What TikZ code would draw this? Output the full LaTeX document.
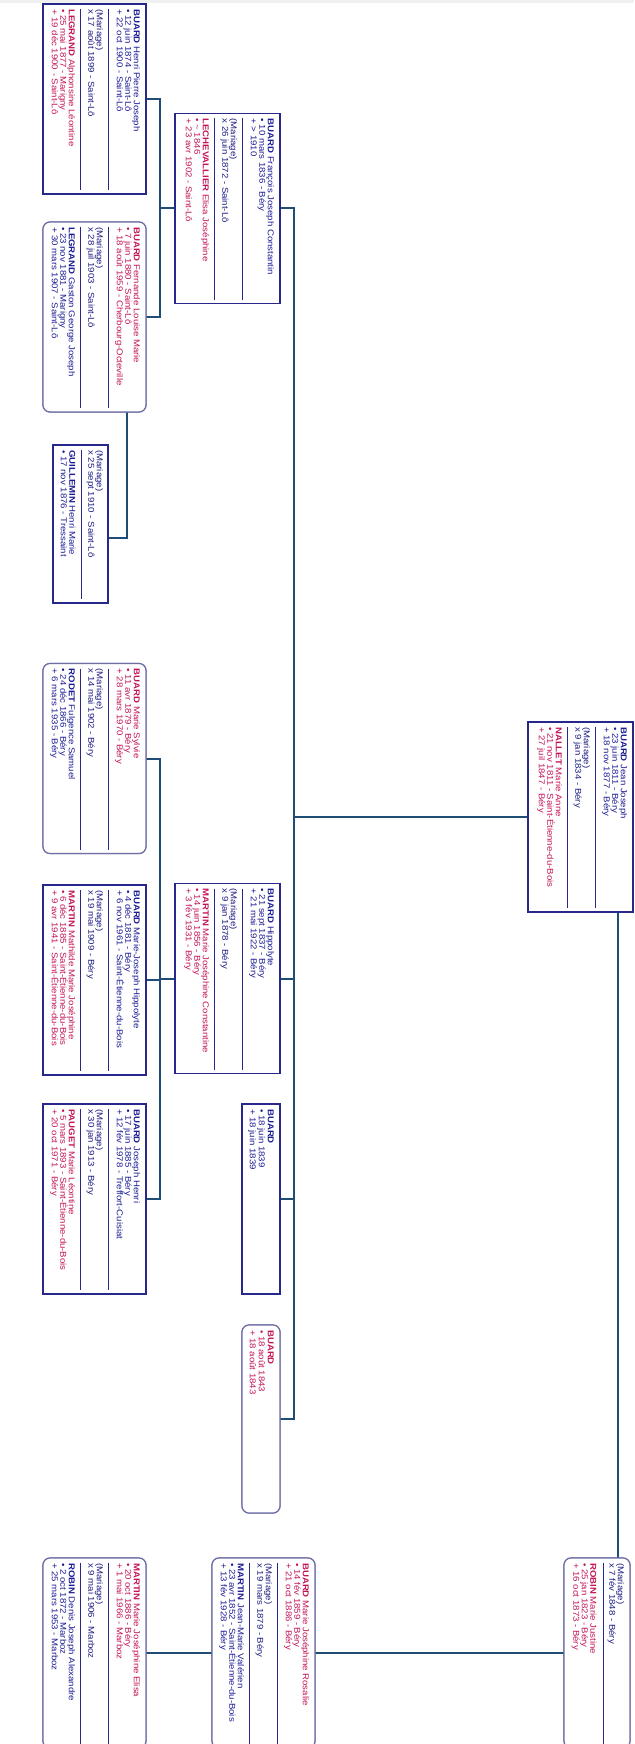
\documentclass[tikz,border=0pt]{standalone}
\usepackage{fontspec}
\setmainfont{Liberation Sans}
\newfontfamily\genfont[FakeStretch=1.13]{Liberation Sans}
\definecolor{male}{RGB}{28,28,150}
\definecolor{female}{RGB}{196,20,88}
\definecolor{marr}{RGB}{28,28,130}
\definecolor{sqframe}{RGB}{40,40,140}
\definecolor{rdframe}{RGB}{110,110,165}
\definecolor{link}{RGB}{30,78,118}
\tikzset{
 sqbox/.style={draw=sqframe, line width=1.3pt, fill=white, rectangle, inner sep=0pt, outer sep=0pt},
 rdbox/.style={draw=rdframe, line width=1.2pt, fill=white, rectangle, rounded corners=7pt, inner sep=0pt, outer sep=0pt},
 gtxt/.style={rotate=-90, anchor=west, inner sep=0pt, font=\genfont\fontsize{8.5}{9}\selectfont, text height=6pt, text depth=1.5pt},
 divl/.style={draw=sqframe, line width=1pt},
 conn/.style={draw=link, line width=2pt},
}
\newcounter{tl}
\newcommand\tline[4]{\stepcounter{tl}\node[gtxt,text=#3] (t\thetl) at ([xshift=-#2pt,yshift=-5pt]#1.north east) {#4};}
\newcommand\dline[2]{\draw[divl] ([xshift=-#2pt,yshift=-5pt]#1.north east) -- ([xshift=-#2pt,yshift=4pt]#1.south east);}
\newcommand\personA[5]{\tline{#1}{10}{#2}{#3}\tline{#1}{18.5}{#2}{#4}\tline{#1}{27}{#2}{#5}\dline{#1}{37.5}}
\newcommand\marriage[2]{\tline{#1}{47}{marr}{(Mariage)}\tline{#1}{55.5}{marr}{#2}\dline{#1}{65.5}}
\newcommand\personB[5]{\tline{#1}{75}{#2}{#3}\tline{#1}{83.5}{#2}{#4}\tline{#1}{92}{#2}{#5}}
\begin{document}
\begin{tikzpicture}[x=1pt,y=-1pt]
\useasboundingbox (0,0) rectangle (634,1744);
\clip (0,0) rectangle (634,1744);
\fill[gray!12] (0,0) rectangle (634,3);
% junction coordinates
\coordinate (fB1) at (160,208.5);
\coordinate (fB2) at (160,978.5);
\coordinate (sp) at (294,817);
% boxes
\node[sqbox, minimum width=103pt, minimum height=190pt] (A1) at (94.5,99) {};
\node[rdbox, minimum width=103pt, minimum height=190pt] (A2) at (94.5,317) {};
\node[sqbox, minimum width=55pt, minimum height=158pt] (A3) at (80.5,524) {};
\node[rdbox, minimum width=103pt, minimum height=190pt] (A4) at (94.5,758.5) {};
\node[sqbox, minimum width=103pt, minimum height=190pt] (A5) at (94.5,980) {};
\node[sqbox, minimum width=103pt, minimum height=190pt] (A6) at (94.5,1199) {};
\node[rdbox, minimum width=103pt, minimum height=190pt] (A7) at (94.5,1653) {};
\node[sqbox, minimum width=105pt, minimum height=190pt] (B1) at (227.5,208.5) {};
\node[sqbox, minimum width=105pt, minimum height=190pt] (B2) at (227.5,978.5) {};
\node[sqbox, minimum width=38pt, minimum height=190pt] (B3) at (261,1199) {};
\node[rdbox, minimum width=38pt, minimum height=188pt] (B4) at (261,1419) {};
\node[rdbox, minimum width=103pt, minimum height=190pt] (B5) at (263.5,1653) {};
\node[sqbox, minimum width=105pt, minimum height=190pt] (C) at (580.5,817) {};
\node[rdbox, minimum width=66pt, minimum height=190pt] (C2) at (597,1653) {};
% connectors
\draw[conn] (A1.east) -| (fB1) |- (A2.east);
\draw[conn] (B1.west) -- (fB1);
\draw[conn] ([xshift=32.5pt]A2.south) |- ([yshift=-14pt]A3.east);
\draw[conn] (A4.east) -| (fB2) |- (A6.east);
\draw[conn] (A5.east) -- (A5.east -| fB2);
\draw[conn] (B2.west) -- (fB2);
\draw[conn] (B1.east) -| (sp) |- (B4.east);
\draw[conn] (B2.east) -- (B2.east -| sp);
\draw[conn] (B3.east) -- (B3.east -| sp);
\draw[conn] (C.west) -- (sp);
\draw[conn] ([xshift=37pt]C.south) -- ([xshift=37pt]C.south |- C2.north);
\draw[conn] (C2.west) -- (B5.east);
\draw[conn] (B5.west) -- (A7.east);
% redraw boxes on top of connectors
\foreach \b/\s in {A1/sqbox,A2/rdbox,A3/sqbox,A4/rdbox,A5/sqbox,A6/sqbox,A7/rdbox,B1/sqbox,B2/sqbox,B3/sqbox,B4/rdbox,B5/rdbox,C/sqbox,C2/rdbox}{
  \path[\s] (\b.south west) rectangle (\b.north east);
}
% texts
\personA{A1}{male}{\textbf{BUARD} Henri Pierre Joseph}{• 12 juin 1874 - Saint-Lô}{+ 22 oct 1900 - Saint-Lô}
\marriage{A1}{x 17 août 1899 - Saint-Lô}
\personB{A1}{female}{\textbf{LEGRAND} Alphonsine Léontine}{• 25 mai 1877 - Marigny}{+ 19 déc 1900 - Saint-Lô}

\personA{A2}{female}{\textbf{BUARD} Fernande Louise Marie}{• 7 juin 1880 - Saint-Lô}{+ 18 août 1959 - Cherbourg-Octeville}
\marriage{A2}{x 28 juil 1903 - Saint-Lô}
\personB{A2}{male}{\textbf{LEGRAND} Gaston George Joseph}{• 23 nov 1881 - Marigny}{+ 30 mars 1907 - Saint-Lô}

\tline{A3}{9}{marr}{(Mariage)}
\tline{A3}{17.5}{marr}{x 25 sept 1910 - Saint-Lô}
\dline{A3}{27}
\tline{A3}{36.5}{male}{\textbf{GUILLEMIN} Henri Marie}
\tline{A3}{45}{male}{• 17 nov 1876 - Tressaint}

\personA{A4}{female}{\textbf{BUARD} Marie Sylvie}{• 11 avr 1879 - Béry}{+ 28 mars 1970 - Béry}
\marriage{A4}{x 14 mai 1902 - Béry}
\personB{A4}{male}{\textbf{RODET} Fulgence Samuel}{• 24 déc 1866 - Béry}{+ 6 mars 1935 - Béry}

\personA{A5}{male}{\textbf{BUARD} Marie-Joseph Hippolyte}{• 4 déc 1881 - Béry}{+ 6 nov 1961 - Saint-Étienne-du-Bois}
\marriage{A5}{x 19 mai 1909 - Béry}
\personB{A5}{female}{\textbf{MARTIN} Mathilde Marie Joséphine}{• 6 déc 1885 - Saint-Étienne-du-Bois}{+ 9 avr 1941 - Saint-Étienne-du-Bois}

\personA{A6}{male}{\textbf{BUARD} Joseph Henri}{• 17 juin 1885 - Béry}{+ 12 fév 1978 - Treffort-Cuisiat}
\marriage{A6}{x 30 jan 1913 - Béry}
\personB{A6}{female}{\textbf{PAUGET} Marie Léontine}{• 5 mars 1893 - Saint-Étienne-du-Bois}{+ 20 oct 1971 - Béry}

\personA{A7}{female}{\textbf{MARTIN} Marie Joséphine Elisa}{• 20 oct 1886 - Béry}{+ 1 mai 1966 - Marboz}
\marriage{A7}{x 9 mai 1906 - Marboz}
\personB{A7}{male}{\textbf{ROBIN} Denis Joseph Alexandre}{• 2 oct 1872 - Marboz}{+ 25 mars 1953 - Marboz}

\personA{B1}{male}{\textbf{BUARD} François Joseph Constantin}{• 10 mars 1836 - Béry}{+ > 1910}
\marriage{B1}{x 26 juin 1872 - Saint-Lô}
\personB{B1}{female}{\textbf{LECHEVALLIER} Elisa Joséphine}{• \textasciitilde{} 1846}{+ 23 avr 1902 - Saint-Lô}

\personA{B2}{male}{\textbf{BUARD} Hippolyte}{• 21 sept 1837 - Béry}{+ 21 mai 1922 - Béry}
\marriage{B2}{x 9 jan 1878 - Béry}
\personB{B2}{female}{\textbf{MARTIN} Marie Joséphine Constantine}{• 14 juin 1856 - Béry}{+ 3 fév 1931 - Béry}

\tline{B3}{10}{male}{\textbf{BUARD}}
\tline{B3}{19}{male}{• 18 juin 1839}
\tline{B3}{28}{male}{+ 18 juin 1839}

\tline{B4}{10}{female}{\textbf{BUARD}}
\tline{B4}{19}{female}{• 18 août 1843}
\tline{B4}{28}{female}{+ 18 août 1843}

\personA{B5}{female}{\textbf{BUARD} Marie Joséphine Rosalie}{• 14 fév 1859 - Béry}{+ 21 oct 1886 - Béry}
\marriage{B5}{x 19 mars 1879 - Béry}
\personB{B5}{male}{\textbf{MARTIN} Jean-Marie Valérien}{• 23 avr 1852 - Saint-Étienne-du-Bois}{+ 13 fév 1928 - Béry}

\personA{C}{male}{\textbf{BUARD} Jean Joseph}{• 23 juin 1811 - Béry}{+ 18 nov 1877 - Béry}
\marriage{C}{x 9 jan 1834 - Béry}
\personB{C}{female}{\textbf{NALLET} Marie Anne}{• 21 nov 1811 - Saint-Étienne-du-Bois}{+ 27 juil 1847 - Béry}

\tline{C2}{10}{marr}{(Mariage)}
\tline{C2}{18.5}{marr}{x 7 fév 1848 - Béry}
\dline{C2}{27}
\tline{C2}{37.5}{female}{\textbf{ROBIN} Marie Justine}
\tline{C2}{46}{female}{• 25 jan 1823 - Béry}
\tline{C2}{54.5}{female}{+ 16 oct 1873 - Béry}
\end{tikzpicture}
\end{document}
